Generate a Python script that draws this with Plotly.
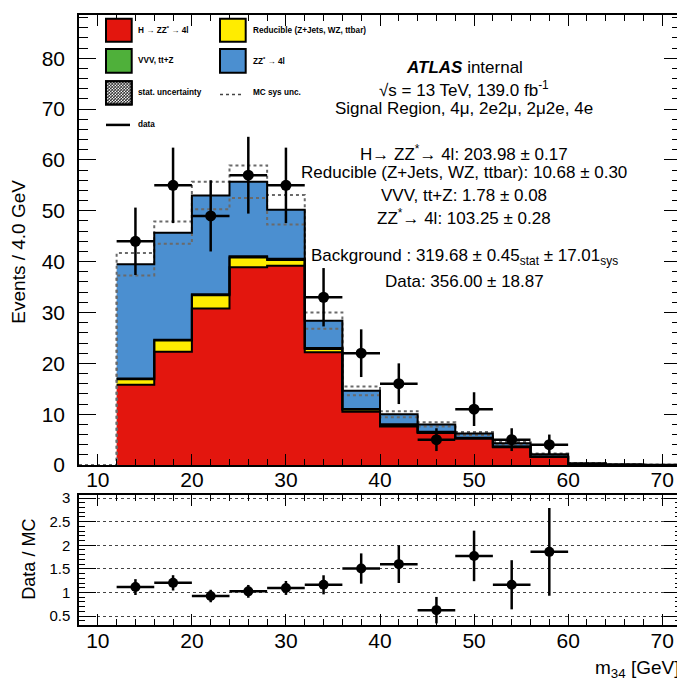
import numpy as np
import plotly.graph_objects as go

# m34 binning: 4 GeV bins, lower edges
bin_lo = [12, 16, 20, 24, 28, 32, 36, 40, 44, 48, 52, 56, 60, 64, 68]
bin_w = 4

# stacked MC contributions (events / bin)
higgs = [15.8, 22.3, 30.8, 38.9, 39.2, 22.2, 10.5, 7.6, 6.3, 5.2, 3.5, 1.6, 0.1, 0.0, 0.0]
reducible = [1.1, 2.2, 2.6, 1.9, 1.1, 0.6, 0.4, 0.3, 0.15, 0.1, 0.1, 0.05, 0.02, 0.01, 0.0]
vvv = [0.1, 0.15, 0.2, 0.25, 0.25, 0.2, 0.15, 0.12, 0.1, 0.08, 0.07, 0.05, 0.03, 0.02, 0.01]
zz = [22.5, 21.05, 19.4, 14.65, 9.65, 5.4, 3.55, 1.98, 1.45, 0.82, 0.63, 0.45, 0.2, 0.12, 0.04]
mc_sys = [2.2, 2.2, 2.7, 3.2, 2.9, 1.6, 0.85, 0.6, 0.4, 0.3, 0.25, 0.15, 0.05, 0.03, 0.01]

# data
data_x = [14, 18, 22, 26, 30, 34, 38, 42, 46, 50, 54, 58]
data_y = [44, 55, 49, 57, 55, 33, 22, 16, 5, 11, 5, 4]
data_err = [6.63, 7.42, 7.0, 7.55, 7.42, 5.74, 4.69, 4.0, 2.24, 3.32, 2.24, 2.0]

RED, YELLOW, GREEN, BLUE = "#e3160e", "#ffec00", "#4fb03a", "#4b8fd0"
FONT = "Liberation Sans, Arial, Helvetica, sans-serif"

# the page body adds an 8px margin, so the figure is drawn 8px smaller
OFF = 8
W, H = 685 - OFF, 684 - OFF
ML, MR, MT, MB = 79 - OFF, 4, 1, 59
PW, PH = W - ML - MR, H - MT - MB


def px(x):
    # x given in window pixels
    return (x - OFF - ML) / PW


def py(y):
    return (H - MB - (y - OFF)) / PH


edges = bin_lo + [bin_lo[-1] + bin_w]
levels = np.cumsum([higgs, reducible, vvv, zz], axis=0)
total = levels[-1]


def step(v):
    return list(v) + [v[-1]]


fig = go.Figure()

# filled stack
for i, col in enumerate([RED, YELLOW, GREEN, BLUE]):
    fig.add_trace(go.Scatter(
        x=edges, y=step(levels[i]), mode="lines", line=dict(shape="hv", width=0),
        fill="tozeroy" if i == 0 else "tonexty", fillcolor=col,
        xaxis="x", yaxis="y", hoverinfo="skip",
    ))

# MC systematic band (dashed), starts from the empty 8-12 bin
sys_x = [8] + edges
for sign in (1, -1):
    band = total + sign * np.array(mc_sys)
    fig.add_trace(go.Scatter(
        x=sys_x, y=[0] + step(band), mode="lines",
        line=dict(shape="hv", width=2, color="#6a6a6a", dash="3px,3px"),
        xaxis="x", yaxis="y", hoverinfo="skip",
    ))

# black outlines of the stack
for i in range(4):
    fig.add_trace(go.Scatter(
        x=edges, y=step(levels[i]), mode="lines",
        line=dict(shape="hv", width=2, color="black"),
        xaxis="x", yaxis="y", hoverinfo="skip",
    ))

errbar = dict(type="data", width=0, thickness=2.5, color="black")
fig.add_trace(go.Scatter(
    x=data_x, y=data_y, mode="markers",
    marker=dict(color="black", size=11),
    error_y=dict(array=data_err, **errbar),
    error_x=dict(array=[bin_w / 2] * len(data_x), **errbar),
    xaxis="x", yaxis="y",
))

# ratio panel
mc_at_data = total[:len(data_y)]
ratio = np.array(data_y) / mc_at_data
ratio_err = np.array(data_err) / mc_at_data
fig.add_trace(go.Scatter(
    x=data_x, y=ratio, mode="markers",
    marker=dict(color="black", size=10),
    error_y=dict(array=ratio_err, **errbar),
    error_x=dict(array=[bin_w / 2] * len(data_x), **errbar),
    xaxis="x2", yaxis="y2",
))

main_bottom = py(463.5)
ratio_top = py(494)

axis_common = dict(
    showline=True, linecolor="black", linewidth=1.5, mirror="ticks",
    ticks="inside", tickcolor="black", tickwidth=1.2,
    zeroline=False, showgrid=False, color="black",
)

fig.update_layout(
    width=W, height=H,
    margin=dict(l=ML, r=MR, t=MT, b=MB),
    paper_bgcolor="white", plot_bgcolor="white",
    showlegend=False,
    font=dict(family=FONT, color="black"),
    xaxis=dict(
        **axis_common, domain=[0, 1], anchor="y", range=[8, 72],
        tick0=10, dtick=10, ticklen=11, tickfont=dict(size=21), ticklabelstandoff=-5,
        minor=dict(dtick=2, ticklen=6, ticks="inside", tickcolor="black"),
    ),
    yaxis=dict(
        **axis_common, domain=[main_bottom, 1], anchor="x", range=[0, 88.5],
        tick0=0, dtick=10, ticklen=17, tickfont=dict(size=21), ticklabelstandoff=8,
        minor=dict(dtick=2, ticklen=9, ticks="inside", tickcolor="black"),
    ),
    xaxis2=dict(
        **axis_common, domain=[0, 1], anchor="y2", range=[8, 72],
        tick0=10, dtick=10, ticklen=11, tickfont=dict(size=21), ticklabelstandoff=-4,
        minor=dict(dtick=2, ticklen=6, ticks="inside", tickcolor="black"),
    ),
    yaxis2=dict(
        **{**axis_common, "showgrid": True}, domain=[0, ratio_top], anchor="x2",
        range=[0.31, 3.06], tick0=0.5, dtick=0.5, ticklen=17,
        tickfont=dict(size=15), ticklabelstandoff=4,
        gridcolor="#444", griddash="dot", gridwidth=1,
        minor=dict(dtick=0.1, ticklen=6, ticks="inside", tickcolor="black", showgrid=False),
    ),
)

ann = []


def text(x, y, s, size, xanchor="center", angle=0):
    ann.append(dict(x=px(x), y=py(y), xref="paper", yref="paper", text=s,
                    showarrow=False, xanchor=xanchor, yanchor="middle",
                    textangle=angle, font=dict(size=size, family=FONT, color="black")))


# axis titles
text(19, 248, "Events / 4.0 GeV", 19, angle=-90)
text(29, 559, "Data / MC", 18, angle=-90)
text(681, 669, "m<sub>34</sub> [GeV]", 19, xanchor="right")

# info block
cx = 464
fs = 17
text(cx, 61.7, "<b><i>ATLAS</i></b> internal", fs)
text(cx, 83.3, "√s = 13 TeV, 139.0 fb<sup>-1</sup>", fs)
text(cx, 103.3, "Signal Region, 4μ, 2e2μ, 2μ2e, 4e", fs)
text(cx, 148, "H→ ZZ<sup>*</sup>→ 4l: 203.98 ± 0.17", fs)
text(cx, 168.3, "Reducible (Z+Jets, WZ, ttbar): 10.68 ± 0.30", fs)
text(cx, 191.7, "VVV, tt+Z: 1.78 ± 0.08", fs)
text(cx, 213.3, "ZZ<sup>*</sup>→ 4l: 103.25 ± 0.28", fs)
text(cx, 253.3, "Background : 319.68 ± 0.45<sub>stat</sub> ± 17.01<sub>sys</sub>", fs)
text(cx, 278.3, "Data: 356.00 ± 18.87", fs)

# legend
shapes = []


def box(x0, y0, x1, y1, col):
    shapes.append(dict(type="rect", xref="paper", yref="paper",
                       x0=px(x0), x1=px(x1), y0=py(y1), y1=py(y0),
                       fillcolor=col, line=dict(color="black", width=2)))


def hline(x0, x1, y, width, col, dash="solid"):
    shapes.append(dict(type="line", xref="paper", yref="paper",
                       x0=px(x0), x1=px(x1), y0=py(y), y1=py(y),
                       line=dict(color=col, width=width, dash=dash)))


def hatch(x0, y0, x1, y1, s=3.0):
    segs = []
    c = x0 - y1
    while c <= x1 - y0:
        a, b = max(x0, y0 + c), min(x1, y1 + c)
        if b > a:
            segs.append((a, a - c, b, b - c))
        c += s
    c = x0 + y0
    while c <= x1 + y1:
        a, b = max(x0, c - y1), min(x1, c - y0)
        if b > a:
            segs.append((a, c - a, b, c - b))
        c += s
    path = " ".join(f"M{px(a):.5f},{py(ay):.5f} L{px(b):.5f},{py(by):.5f}"
                    for a, ay, b, by in segs)
    shapes.append(dict(type="path", xref="paper", yref="paper", path=path,
                       line=dict(color="#111", width=0.9)))


c1x0, c1x1, c2x0, c2x1 = 106, 131.7, 220, 245.7
rows = [(12.7, 36), (43.3, 67.3), (76, 99.3)]
box(c1x0, rows[0][0], c1x1, rows[0][1], RED)
box(c2x0, rows[0][0], c2x1, rows[0][1], YELLOW)
box(c1x0, rows[1][0], c1x1, rows[1][1], GREEN)
box(c2x0, rows[1][0], c2x1, rows[1][1], BLUE)
box(c1x0, rows[2][0], c1x1, rows[2][1], "white")
hatch(c1x0, rows[2][0], c1x1, rows[2][1])
shapes.append(dict(type="rect", xref="paper", yref="paper",
                   x0=px(c1x0), x1=px(c1x1), y0=py(rows[2][1]), y1=py(rows[2][0]),
                   line=dict(color="black", width=2)))
hline(c2x0, 243, 89.3, 1.5, "#444", "3px,3px")
hline(c1x0, 130, 120, 2.5, "black")

lsize = 8.2
ry = [sum(r) / 2 for r in rows]
text(136, ry[0], "<b>H → ZZ<sup>*</sup> → 4l</b>", lsize, "left")
text(251, ry[0], "<b>Reducible (Z+Jets, WZ, ttbar)</b>", lsize, "left")
text(136, ry[1], "<b>VVV, tt+Z</b>", lsize, "left")
text(251, ry[1], "<b>ZZ<sup>*</sup> → 4l</b>", lsize, "left")
text(136, ry[2], "<b>stat. uncertainty</b>", lsize, "left")
text(251, ry[2], "<b>MC sys unc.</b>", lsize, "left")
text(136, 120, "<b>data</b>", lsize, "left")

fig.update_layout(annotations=ann, shapes=shapes)

fig.write_html("out.html")
